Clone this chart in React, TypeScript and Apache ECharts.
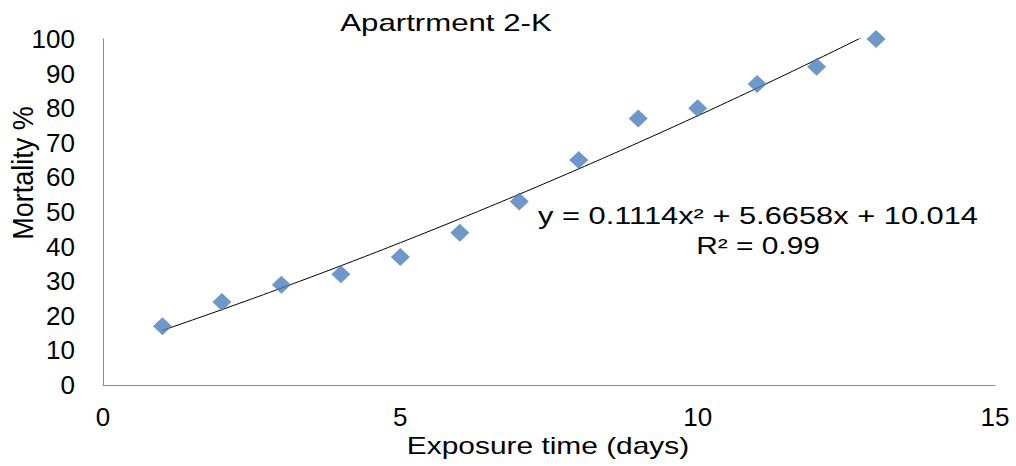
import React, { useEffect, useRef } from "react";
import * as echarts from "echarts";

const days: number[] = [1, 2, 3, 4, 5, 6, 7, 8, 9, 10, 11, 12, 13];
const mortality: number[] = [17, 24, 29, 32, 37, 44, 53, 65, 77, 80, 87, 92, 100];
// polynomial trendline coefficients shown on the chart: a*x^2 + b*x + c
const trendCoef: number[] = [0.1114, 5.6658, 10.014];
const xTicks: number[] = [0, 5, 10, 15];
const yTicks: number[] = [0, 10, 20, 30, 40, 50, 60, 70, 80, 90, 100];
const titleText = "Apartrment 2-K";
const equationText = "y = 0.1114x² + 5.6658x + 10.014";
const r2Text = "R² = 0.99";
const xName = "Exposure time (days)";
const yName = "Mortality %";

export default function App() {
  const ref = useRef<HTMLDivElement>(null);
  useEffect(() => {
    if (!ref.current) return;
    const chart = echarts.init(ref.current, null, { renderer: "svg" });
    const [a, b, c] = trendCoef;
    const trend: number[][] = [];
    const x0 = days[0];
    const x1 = days[days.length - 1];
    const steps = 120;
    for (let i = 0; i <= steps; i++) {
      const x = x0 + ((x1 - x0) * i) / steps;
      trend.push([x, a * x * x + b * x + c]);
    }
    const font = "'Liberation Sans', Arial, sans-serif";
    chart.setOption({
      animation: false,
      backgroundColor: "#ffffff",
      textStyle: { fontFamily: font },
      grid: { left: 103, right: 21, top: 39, bottom: 81, containLabel: false },
      xAxis: {
        type: "value",
        min: xTicks[0],
        max: xTicks[xTicks.length - 1],
        interval: 5,
        axisLine: { show: true, lineStyle: { color: "#8a8a8a", width: 1 } },
        axisTick: { show: false },
        splitLine: { show: false },
        axisLabel: { color: "#000", fontSize: 26, margin: 19, fontFamily: font },
      },
      yAxis: {
        type: "value",
        min: yTicks[0],
        max: yTicks[yTicks.length - 1],
        interval: 10,
        axisLine: { show: true, lineStyle: { color: "#8a8a8a", width: 1 } },
        axisTick: { show: false },
        splitLine: { show: false },
        axisLabel: { color: "#000", fontSize: 26, margin: 28, fontFamily: font },
      },
      series: [
        {
          type: "line",
          data: trend,
          showSymbol: false,
          symbol: "none",
          clip: true,
          lineStyle: { color: "#000", width: 1 },
          z: 2,
          silent: true,
        },
        {
          type: "scatter",
          data: days.map((d, i) => [d, mortality[i]]),
          symbol: "diamond",
          symbolSize: [19, 18],
          itemStyle: { color: "#4A7EBB" },
          clip: false,
          z: 3,
        },
      ],
      graphic: [
        {
          type: "text",
          x: 446,
          y: 23,
          scaleX: 1.3,
          style: {
            text: titleText,
            font: `24px ${font}`,
            fill: "#000",
            textAlign: "center",
            textVerticalAlign: "middle",
          },
        },
        {
          type: "text",
          x: 758,
          y: 216,
          scaleX: 1.34,
          z: 10,
          style: {
            text: equationText,
            font: `23px ${font}`,
            fill: "#000",
            textAlign: "center",
            textVerticalAlign: "middle",
          },
        },
        {
          type: "text",
          x: 758,
          y: 246,
          scaleX: 1.3,
          z: 10,
          style: {
            text: r2Text,
            font: `23px ${font}`,
            fill: "#000",
            textAlign: "center",
            textVerticalAlign: "middle",
          },
        },
        {
          type: "text",
          x: 548,
          y: 446,
          scaleX: 1.3,
          style: {
            text: xName,
            font: `23px ${font}`,
            fill: "#000",
            textAlign: "center",
            textVerticalAlign: "middle",
          },
        },
        {
          type: "text",
          x: 23,
          y: 173,
          rotation: Math.PI / 2,
          scaleY: 1.1,
          style: {
            text: yName,
            font: `27px ${font}`,
            fill: "#000",
            textAlign: "center",
            textVerticalAlign: "middle",
          },
        },
      ],
    });
    return () => chart.dispose();
  }, []);
  return (
    <div
      ref={ref}
      style={{ position: "fixed", left: 0, top: 0, width: 1016, height: 466 }}
    />
  );
}
